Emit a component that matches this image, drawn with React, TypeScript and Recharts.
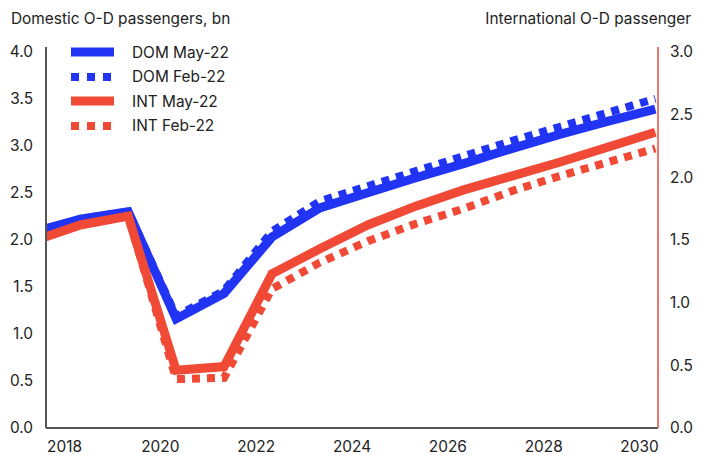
import { LineChart, Line, XAxis, YAxis } from 'recharts';

// data points sit roughly a third of the way into each year
const years = [2017, 2018, 2019, 2020, 2021, 2022, 2023, 2024, 2025, 2026, 2027, 2028, 2029, 2030];
const domMay = [2.08, 2.22, 2.3, 1.16, 1.43, 2.03, 2.34, 2.5, 2.66, 2.81, 2.97, 3.12, 3.26, 3.39];
const domFeb = [2.08, 2.22, 2.3, 1.19, 1.46, 2.09, 2.41, 2.57, 2.73, 2.89, 3.05, 3.2, 3.35, 3.5];
const intMay = [1.49, 1.62, 1.69, 0.46, 0.49, 1.23, 1.43, 1.62, 1.77, 1.9, 2.01, 2.12, 2.24, 2.36];
const intFeb = [1.49, 1.62, 1.69, 0.39, 0.4, 1.11, 1.32, 1.49, 1.63, 1.75, 1.89, 2.01, 2.12, 2.23];

const xTicks = [2018, 2020, 2022, 2024, 2026, 2028, 2030];
const leftTicks = [0, 0.5, 1, 1.5, 2, 2.5, 3, 3.5, 4];
const rightTicks = [0, 0.5, 1, 1.5, 2, 2.5, 3];

const BLUE = '#2134F4';
const RED = '#F04A36';
const FONT = 'Inter, sans-serif';

const data = years.map((y, i) => ({
  t: y + 0.33,
  domMay: domMay[i],
  domFeb: domFeb[i],
  intMay: intMay[i],
  intFeb: intFeb[i],
}));

const legendItems = [
  { label: 'DOM May-22', color: BLUE, dash: undefined },
  { label: 'DOM Feb-22', color: BLUE, dash: '8 8' },
  { label: 'INT May-22', color: RED, dash: undefined },
  { label: 'INT Feb-22', color: RED, dash: '8 8' },
];

function LegendBox() {
  return (
    <div style={{ position: 'absolute', left: 71, top: 40, fontFamily: FONT, fontSize: 15.4, color: '#222', zIndex: 2 }}>
      {legendItems.map((it) => (
        <div key={it.label} style={{ display: 'flex', alignItems: 'center', height: 24.5 }}>
          <svg width={43} height={12} style={{ marginRight: 18 }}>
            <line x1={0} y1={6} x2={43} y2={6} stroke={it.color} strokeWidth={it.dash ? 8 : 9} strokeDasharray={it.dash} />
          </svg>
          <span>{it.label}</span>
        </div>
      ))}
    </div>
  );
}

const tickStyle = { fill: '#222', fontSize: 15.4, fontFamily: FONT };

export default function App() {
  return (
    <div style={{ position: 'absolute', left: 0, top: 0, width: 710, height: 455, background: '#fff' }}>
      <div style={{ position: 'absolute', left: 11, top: 9, fontFamily: FONT, fontSize: 15.4, color: '#222' }}>
        Domestic O-D passengers, bn
      </div>
      <div style={{ position: 'absolute', right: 19, top: 9, fontFamily: FONT, fontSize: 15.4, color: '#222' }}>
        International O-D passenger
      </div>
      <LegendBox />
      <LineChart width={710} height={455} data={data} margin={{ top: 47, right: 0, bottom: 0, left: 0 }}>
        <XAxis
          dataKey="t"
          type="number"
          domain={[2017.614, 2030.386]}
          allowDataOverflow
          ticks={xTicks}
          tickFormatter={(v) => String(v)}
          height={27}
          tickLine={false}
          tickSize={0}
          tickMargin={13}
          tick={tickStyle}
          axisLine={{ stroke: '#555', strokeWidth: 2 }}
        />
        <YAxis
          yAxisId="left"
          domain={[0, 4.05]}
          ticks={leftTicks}
          tickFormatter={(v) => v.toFixed(1)}
          width={46}
          tickLine={false}
          tickSize={0}
          tickMargin={13}
          tick={tickStyle}
          axisLine={{ stroke: '#555', strokeWidth: 2 }}
        />
        <YAxis
          yAxisId="right"
          orientation="right"
          domain={[0, 3.04]}
          ticks={rightTicks}
          tickFormatter={(v) => v.toFixed(1)}
          width={52}
          tickLine={false}
          tickSize={0}
          tickMargin={12}
          tick={tickStyle}
          axisLine={{ stroke: '#EE7A6C', strokeWidth: 2 }}
        />
        <Line yAxisId="left" dataKey="domFeb" stroke={BLUE} strokeWidth={8} strokeDasharray="8 7" dot={false} isAnimationActive={false} />
        <Line yAxisId="left" dataKey="domMay" stroke={BLUE} strokeWidth={9} dot={false} isAnimationActive={false} />
        <Line yAxisId="right" dataKey="intFeb" stroke={RED} strokeWidth={8} strokeDasharray="8 7" dot={false} isAnimationActive={false} />
        <Line yAxisId="right" dataKey="intMay" stroke={RED} strokeWidth={9} dot={false} isAnimationActive={false} />
      </LineChart>
    </div>
  );
}
